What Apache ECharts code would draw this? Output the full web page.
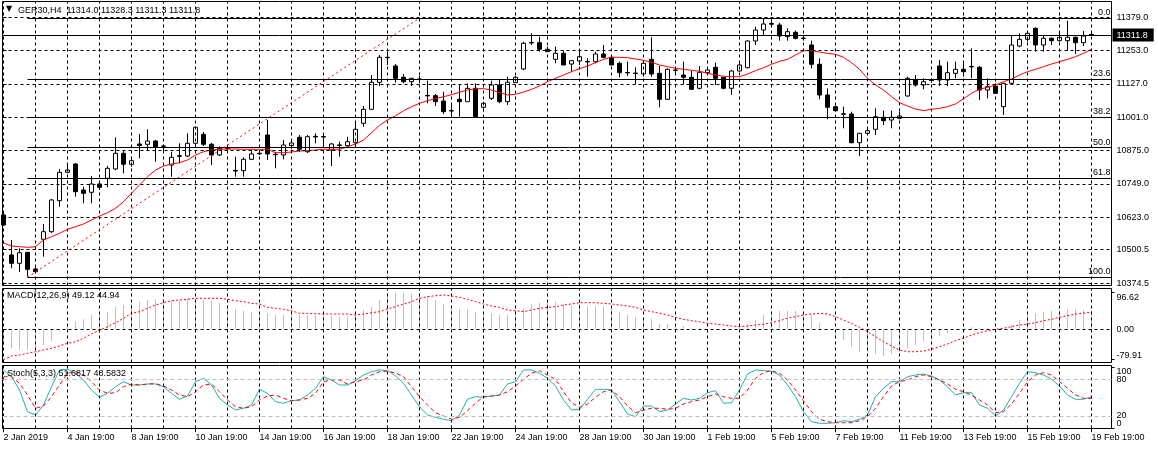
<!DOCTYPE html>
<html>
<head>
<meta charset="utf-8">
<script src="https://cdn.jsdelivr.net/npm/echarts@6/dist/echarts.min.js"></script>
<style>
html,body{margin:0;padding:0;background:#fff;}
#chart{width:1158px;height:450px;}
</style>
</head>
<body>
<div id="chart"></div>
<script>
// ---------- DATA ----------
const days = ['2 Jan','3 Jan','4 Jan','7 Jan','8 Jan','9 Jan','10 Jan','11 Jan','14 Jan','15 Jan','16 Jan','17 Jan','18 Jan',
  '21 Jan','22 Jan','23 Jan','24 Jan','25 Jan','28 Jan','29 Jan','30 Jan','31 Jan','1 Feb','4 Feb','5 Feb','6 Feb','7 Feb','8 Feb',
  '11 Feb','12 Feb','13 Feb','14 Feb','15 Feb','18 Feb','19 Feb'];
const hours = ['07:00','11:00','15:00','19:00'];
const firstLabel = '2 Jan 2019';

const opens = [10631.7,10480.5,10449.1,10490.7,10427.6,10539.8,10568.6,10685.8,10793.1,10824.5,
10726.2,10717.5,10748.9,10770.4,10805.6,10864.9,10823.4,10900.1,10898.9,10911.4,
10892.5,10820.7,10855.9,10854.7,10902.7,10936.7,10898.9,10858.5,10885.0,10799.9,
10799.2,10842.2,10864.9,10934.1,10861.1,10858.5,10893.7,10925.4,10871.0,10929.2,
10928.4,10877.4,10896.3,10893.7,10905.0,10978.3,11031.2,11133.3,11227.8,11194.9,
11152.2,11135.6,11145.8,11083.4,11082.7,11062.6,11026.0,11069.0,11060.0,11110.6,
11038.8,11072.8,11123.1,11060.0,11131.8,11183.6,11283.8,11283.0,11258.0,11220.2,
11242.9,11202.5,11213.8,11211.9,11211.2,11240.3,11227.8,11205.1,11170.3,11168.1,
11164.7,11220.2,11167.3,11069.0,11179.8,11160.9,11152.2,11110.6,11169.6,11190.0,
11152.2,11110.6,11176.0,11188.5,11289.4,11331.0,11355.6,11349.9,11305.7,11322.3,
11300.4,11274.3,11201.3,11085.3,11041.1,11014.2,11013.5,10905.0,10940.5,10955.6,
11001.0,10990.8,10997.2,11081.5,11142.0,11123.1,11142.0,11194.9,11142.0,11167.3,
11182.4,11193.0,11190.0,11104.2,11119.3,11041.1,11129.5,11270.5,11295.8,11337.4,
11274.3,11299.6,11290.6,11290.6,11303.4,11283.0,11314.0];
const highs = [10639.3,10537.2,10505.8,10491.8,10436.3,10597.7,10692.2,10805.6,10827.1,10828.3,
10738.7,10779.1,10755.3,10816.9,10925.0,10877.4,10852.1,10937.9,10955.6,10915.2,
10898.2,10871.0,10902.7,10940.5,10964.3,10945.4,10903.9,10890.6,10892.5,10852.1,
10849.8,10880.0,10877.4,10990.8,10871.0,10915.2,10915.2,10934.1,10934.1,10940.5,
10934.1,10903.9,10908.8,10927.7,10984.4,11043.7,11160.9,11236.5,11249.0,11202.5,
11164.7,11150.0,11157.1,11139.4,11089.1,11097.8,11047.5,11126.9,11129.5,11129.5,
11060.0,11139.4,11144.6,11154.5,11157.1,11286.8,11318.5,11305.7,11267.9,11267.9,
11252.8,11217.6,11252.8,11224.0,11249.0,11274.3,11230.1,11211.2,11211.2,11190.0,
11211.2,11303.4,11194.9,11186.2,11186.2,11211.2,11177.2,11194.9,11182.4,11207.4,
11152.2,11179.8,11205.1,11292.0,11343.5,11375.2,11368.8,11358.6,11337.4,11328.4,
11312.1,11290.6,11224.0,11110.6,11045.0,11041.1,11022.2,10942.0,10959.4,11035.0,
11026.0,11026.0,11022.2,11154.5,11160.9,11148.4,11148.4,11217.6,11211.2,11211.2,
11205.1,11261.8,11194.9,11148.4,11129.5,11131.0,11308.3,11318.5,11320.8,11341.2,
11308.3,11303.4,11320.8,11366.2,11306.0,11327.2,11328.3];
const lows = [10590.1,10430.2,10416.2,10398.5,10411.3,10474.1,10563.7,10663.1,10789.3,10700.9,
10675.9,10675.9,10726.2,10736.4,10801.8,10789.3,10814.3,10846.0,10877.4,10833.2,
10864.9,10776.5,10827.1,10850.9,10896.3,10892.5,10820.7,10854.7,10877.4,10776.5,
10776.5,10839.6,10858.5,10839.6,10808.2,10842.2,10880.0,10869.8,10866.1,10902.7,
10885.0,10816.9,10852.1,10889.9,10896.3,10965.5,11028.6,11119.3,11198.7,11131.8,
11129.5,11119.3,11129.5,11053.9,11043.7,11013.5,11003.3,11003.3,11060.0,11003.3,
11022.2,11066.4,11053.9,11047.5,11131.8,11179.8,11274.3,11249.0,11249.0,11205.1,
11198.7,11173.4,11198.7,11154.5,11205.1,11224.0,11198.7,11152.2,11157.1,11126.9,
11154.5,11154.5,11038.8,11066.4,11160.9,11126.9,11104.2,11106.8,11167.3,11123.1,
11106.8,11085.3,11173.4,11186.2,11274.3,11312.1,11349.9,11290.6,11290.6,11295.8,
11290.6,11186.2,11069.0,10993.4,11022.2,10959.4,10902.7,10854.7,10934.1,10934.1,
10971.9,10959.4,10993.4,11078.9,11116.7,11106.8,11131.8,11119.3,11119.3,11148.4,
11154.5,11148.4,11066.4,11072.8,11089.1,11009.7,11126.9,11265.6,11286.8,11249.0,
11249.0,11274.3,11286.8,11252.8,11240.3,11270.5,11311.3];
const closes = [10593.9,10449.1,10489.2,10426.4,10417.4,10568.6,10688.4,10793.1,10801.8,10719.8,
10713.7,10748.9,10736.4,10808.2,10864.9,10823.4,10836.9,10894.4,10911.4,10888.7,
10891.4,10849.8,10853.6,10902.7,10963.2,10898.9,10858.5,10883.8,10882.3,10798.0,
10842.2,10862.3,10863.0,10862.3,10859.6,10896.3,10903.9,10880.0,10927.7,10926.5,
10926.5,10900.1,10895.2,10908.8,10955.6,11031.2,11133.3,11227.8,11226.3,11148.4,
11135.6,11148.4,11144.6,11081.9,11060.0,11022.2,11024.8,11060.0,11110.6,11003.3,
11053.9,11123.1,11060.0,11133.3,11152.2,11280.7,11281.9,11258.0,11249.0,11242.9,
11198.7,11215.0,11230.1,11210.4,11240.3,11227.8,11198.7,11169.6,11168.8,11166.6,
11205.1,11164.7,11069.0,11182.4,11178.7,11152.2,11106.8,11171.1,11179.8,11148.4,
11110.6,11176.0,11198.7,11289.4,11331.0,11353.7,11352.9,11308.3,11324.6,11299.6,
11298.9,11201.3,11085.3,11038.8,11026.0,11012.7,10905.0,10940.5,10950.4,11003.3,
10988.2,11001.0,11005.9,11148.4,11123.1,11135.6,11140.1,11142.0,11169.6,11182.4,
11173.4,11191.5,11104.2,11116.7,11091.7,11129.5,11274.3,11295.8,11318.5,11274.3,
11299.6,11290.6,11303.4,11303.4,11283.0,11308.3,11311.8];

const maValues = [10525.9,10514.5,10511.9,10509.6,10511.9,10537.2,10549.7,10562.5,10577.6,10587.5,
10597.7,10612.8,10627.9,10640.4,10657.0,10682.0,10713.7,10745.1,10776.5,10801.8,
10816.9,10824.5,10829.4,10839.6,10858.5,10871.0,10877.4,10880.0,10881.2,10881.2,
10880.0,10880.0,10880.0,10880.0,10867.2,10867.2,10869.8,10873.6,10874.8,10877.4,
10880.0,10880.0,10880.0,10889.9,10900.1,10915.2,10942.8,10970.8,10990.8,11007.1,
11026.0,11041.1,11053.9,11063.8,11071.3,11078.9,11086.4,11095.5,11104.2,11109.1,
11109.1,11104.2,11094.0,11085.3,11087.9,11096.6,11106.8,11119.3,11135.6,11148.4,
11160.9,11173.4,11184.7,11194.9,11207.4,11220.2,11227.8,11227.8,11226.3,11221.4,
11216.5,11208.9,11198.7,11192.3,11186.2,11182.4,11178.7,11174.9,11167.3,11160.9,
11156.0,11154.5,11154.5,11164.7,11177.2,11188.5,11201.3,11212.6,11220.2,11236.5,
11252.8,11252.8,11247.8,11242.9,11239.1,11227.8,11207.4,11182.4,11148.4,11123.1,
11104.2,11078.9,11056.2,11043.7,11032.4,11026.0,11031.2,11035.0,11041.1,11051.3,
11071.3,11091.7,11106.8,11114.4,11123.1,11135.6,11145.8,11160.9,11173.4,11182.4,
11192.3,11202.5,11211.2,11220.2,11230.1,11242.9,11258.0];

const macdMain = [-41.4,-50.1,-54.6,-54.6,-50.1,-41.4,-30.1,-6.3,11.4,20.1,
26.4,37.8,42.2,46.5,59.7,64.2,68.6,72.9,77.3,79.2,
77.3,75.5,75.5,81.9,79.2,77.3,75.5,70.2,64.2,52.8,
49.1,46.5,43.8,42.2,37.8,37.8,37.8,37.8,37.8,37.8,
37.8,35.1,33.3,33.3,42.2,50.9,59.7,77.3,93.5,96.6,
96.62,94.5,90.6,87.9,77.3,66.8,55.5,52.8,52.8,46.5,
42.2,42.2,37.8,37.8,49.1,55.5,66.8,70.2,72.9,72.9,
66.8,64.2,66.8,61.5,61.5,61.5,55.5,46.5,37.8,31.6,
26.4,26.4,14.0,14.0,14.0,8.7,2.7,2.7,0.6,0.6,
0.6,0.6,5.2,14.0,24.5,37.8,42.2,49.1,49.1,49.1,
42.2,37.8,17.4,-1.1,-15.0,-28.3,-45.9,-59.2,-59.2,-65.2,
-70.5,-65.2,-59.2,-50.1,-41.4,-32.8,-28.3,-17.7,-10.6,-1.1,
-1.1,5.2,2.7,2.7,-0.6,0.6,11.4,24.5,42.2,42.2,
46.5,49.1,49.1,52.8,52.8,50.9,49.12];
const macdSignal = [-79.91,-70.5,-67.8,-63.4,-59.2,-54.7,-50.1,-44.1,-37.0,-32.8,
-23.7,-12.4,-1.9,6.9,17.4,29.1,42.2,46.5,55.5,64.2,
70.2,75.5,77.3,79.2,81.9,81.9,81.9,81.9,79.2,75.5,
72.9,68.6,66.8,58.0,55.5,52.8,49.1,42.2,42.2,41.2,
40.4,40.4,40.4,40.4,37.8,40.4,43.8,46.5,54.0,59.7,
66.8,72.9,81.9,86.1,88.7,90.6,87.9,84.4,79.2,72.9,
66.8,61.5,58.0,50.9,49.1,46.5,50.9,55.5,58.0,59.7,
64.2,66.8,70.2,70.2,70.2,68.6,66.8,64.2,61.5,58.0,
50.9,46.5,42.2,37.8,31.6,26.4,22.7,20.1,15.8,14.0,
11.4,8.7,6.9,8.7,11.4,13.4,17.4,22.7,29.1,33.3,
37.8,40.4,42.2,40.4,33.3,24.5,15.8,5.2,-6.3,-19.5,
-32.8,-44.1,-54.7,-59.2,-59.2,-57.3,-52.8,-45.9,-38.8,-30.1,
-23.7,-15.0,-9.0,-3.7,0.0,2.7,6.9,11.4,14.0,17.4,
22.7,26.4,31.6,36.0,40.0,42.8,44.94];

const stochMain = [95.3,84.3,62.5,27.0,21.6,38.0,67.9,95.3,96.4,89.9,
78.9,62.5,50.6,57.1,67.9,76.1,70.7,70.7,72.3,72.3,
67.9,57.1,47.3,52.7,76.1,81.7,70.7,48.9,38.0,29.8,
32.6,38.0,63.7,57.1,43.4,40.8,45.0,46.2,54.3,65.3,
84.3,78.9,70.7,70.7,77.7,87.1,92.5,95.3,94.5,85.7,
73.5,54.3,35.2,21.6,17.8,14.6,12.3,21.6,47.3,51.6,
50.6,52.7,54.3,72.3,76.1,95.3,95.3,89.9,81.7,69.1,
46.2,29.8,30.9,47.3,63.7,63.7,62.5,43.4,23.2,18.8,
36.3,36.3,27.0,29.8,39.6,48.9,46.2,48.9,58.1,61.4,
40.8,41.7,62.5,88.7,95.3,94.1,93.3,87.1,70.7,51.6,
27.0,10.6,8.0,8.0,9.0,12.3,10.6,14.6,21.6,51.6,
65.3,76.1,76.1,84.3,87.1,88.7,85.4,78.9,67.9,54.3,
58.1,58.1,38.0,32.6,20.0,29.8,51.6,73.5,92.5,90.8,
87.1,80.0,69.1,54.3,47.3,47.3,51.6817];
const stochSignal = [84.3,84.3,73.5,54.3,32.6,36.3,51.6,70.7,89.9,92.5,
87.1,76.1,62.5,57.1,58.1,67.9,72.3,70.7,72.3,73.0,
69.1,62.5,54.3,51.6,59.7,70.7,72.3,59.7,46.2,35.2,
32.6,35.2,46.2,52.7,54.3,48.9,45.0,46.2,48.9,57.1,
76.1,78.9,78.9,72.3,76.1,78.9,87.1,92.5,93.3,90.4,
84.3,67.9,51.6,38.0,25.4,20.0,14.6,17.8,28.6,40.8,
51.6,52.7,54.3,59.7,69.1,80.0,89.9,94.1,87.1,80.0,
59.7,41.7,34.2,39.6,50.6,59.7,62.5,51.6,36.3,25.4,
29.8,32.6,32.6,30.9,32.6,39.6,43.4,46.2,51.6,56.0,
51.6,48.9,48.9,62.5,81.7,91.0,94.1,89.9,78.9,62.5,
45.0,27.0,14.6,10.6,9.0,9.0,9.0,12.3,18.8,32.6,
51.6,69.1,76.1,78.9,84.3,87.1,84.3,78.9,72.3,63.7,
59.7,54.3,46.2,38.0,25.4,27.0,39.6,57.1,76.1,87.1,
90.8,87.1,76.1,65.3,54.3,48.9,48.5832];

const priceTicks = [11379.0, 11253.0, 11127.0, 11001.0, 10875.0, 10749.0, 10623.0, 10500.5, 10374.5];
const bidPrice = 11311.8;
const fibLabels = ['0.0','23.6','38.2','50.0','61.8','100.0'];
const fibPrices = [11376, 11145, 11002, 10886, 10770, 10396];
const fibStartBar = 3;
const fibDiagonal = [[3, 10396], [52, 11376]];
const macdLabels = [96.62, 0, -79.91];
const stochLevels = [20, 80];
const stochScale = [0, 100];
const titleText = 'GER30,H4  11314.0 11328.3 11311.3 11311.8';
const macdText = 'MACD(12,26,9) 49.12 44.94';
const stochText = 'Stoch(5,3,3) 51.6817 48.5832';

// ---------- BUILD ----------
const barTimes = [days[0] + ' 19:00'];
days.slice(1).forEach(d => hours.forEach(h => barTimes.push(d + ' ' + h)));
const idx = closes.map((_, k) => k);
const candleData = idx.map(k => [k, opens[k], closes[k], lows[k], highs[k]]);
const pair = arr => idx.map(k => [k, arr[k]]);
const dayKs = idx.filter(k => k % 4 === 0);
const labelKs = idx.filter(k => k % 8 === 0);

const XMIN = -0.125, XMAX = 138.5;
const FONT = '"Liberation Sans", Arial, sans-serif';
const DASH = [3, 3];
const txt = {fontSize: 9, color: '#000', fontFamily: FONT, fontWeight: 'normal'};
const vLines = () => dayKs.map(k => ({xAxis: k}));

const gridBox = {show: true, borderColor: '#000', borderWidth: 1, backgroundColor: 'transparent'};
const grids = [
  Object.assign({left: 2.5, top: 1.5, width: 1109, height: 284}, gridBox),
  Object.assign({left: 2.5, top: 288.5, width: 1109, height: 74}, gridBox),
  Object.assign({left: 2.5, top: 365.5, width: 1109, height: 63}, gridBox)
];

const xAxes = [0, 1, 2].map(i => ({
  type: 'value', gridIndex: i, min: XMIN, max: XMAX,
  show: i === 2,
  axisLine: {show: false}, splitLine: {show: false},
  axisTick: {show: i === 2, customValues: labelKs, length: 4, lineStyle: {color: '#000'}},
  axisLabel: {show: i === 2, customValues: labelKs, align: 'left', margin: 5,
    formatter: v => (v === 0 ? firstLabel : barTimes[v]), ...txt}
}));

function yAx(grid, min, max, vals, fmt, vAlign) {
  return {
    type: 'value', gridIndex: grid, position: 'right', min: min, max: max,
    axisLine: {show: false}, splitLine: {show: false},
    axisTick: {show: true, customValues: vals, length: 3, lineStyle: {color: '#000'}},
    axisLabel: {customValues: vals, formatter: fmt, margin: 5, verticalAlign: vAlign, ...txt}
  };
}
const MAIN_MIN = 10365.2, MAIN_MAX = 11438.7;
const MACD_MIN = -87.6, MACD_MAX = 107.7;
const ST_MIN = -0.5, ST_MAX = 102.6;
const yAxes = [
  yAx(0, MAIN_MIN, MAIN_MAX, priceTicks, v => v.toFixed(1), 'middle'),
  yAx(1, MACD_MIN, MACD_MAX, [macdLabels[1]], v => v.toFixed(2), 'middle'),
  yAx(1, MACD_MIN, MACD_MAX, [macdLabels[0]], v => v.toFixed(2), 'top'),
  yAx(1, MACD_MIN, MACD_MAX, [macdLabels[2]], v => v.toFixed(2), 'bottom'),
  yAx(2, ST_MIN, ST_MAX, stochLevels, v => String(v), 'middle'),
  yAx(2, ST_MIN, ST_MAX, [stochScale[1]], v => String(v), 'top'),
  yAx(2, ST_MIN, ST_MAX, [stochScale[0]], v => String(v), 'bottom')
];

const mlBase = {silent: true, symbol: ['none', 'none'], animation: false, label: {show: false},
  lineStyle: {color: '#000', type: DASH, width: 1}};

const fibLines = fibPrices.map((p, i) => [
  {coord: [fibStartBar, p], lineStyle: {type: 'solid', color: '#000', width: 1},
   label: {show: true, position: 'insideEndTop', formatter: fibLabels[i], distance: 1, ...txt}},
  {coord: [XMAX, p]}
]);

const series = [
  {type: 'line', xAxisIndex: 0, yAxisIndex: 0, data: [], z: 1,
   markLine: Object.assign({}, mlBase, {data: priceTicks.map(p => ({yAxis: p})).concat(vLines())})},
  {type: 'candlestick', xAxisIndex: 0, yAxisIndex: 0, data: candleData, z: 2,
   encode: {x: 0, y: [1, 2, 3, 4]}, barWidth: 4,
   itemStyle: {color: '#fff', color0: '#000', borderColor: '#000', borderColor0: '#000', borderWidth: 1}},
  {type: 'line', xAxisIndex: 0, yAxisIndex: 0, data: pair(maValues), z: 3, symbol: 'none',
   lineStyle: {color: '#ff0000', width: 1},
   markLine: Object.assign({}, mlBase, {data: fibLines.concat([
     [{coord: fibDiagonal[0], lineStyle: {color: '#ff0000', type: [2, 3], width: 1}}, {coord: fibDiagonal[1]}],
     {yAxis: bidPrice, lineStyle: {type: 'solid', color: '#000', width: 1},
      label: {show: true, position: 'end', formatter: bidPrice.toFixed(1), distance: 1,
        backgroundColor: '#000', padding: [2, 6, 2, 4], ...txt, color: '#fff'}}
   ])})},
  {type: 'line', xAxisIndex: 1, yAxisIndex: 1, data: [], z: 1,
   markLine: Object.assign({}, mlBase, {data: [{yAxis: 0}].concat(vLines())})},
  {type: 'bar', xAxisIndex: 1, yAxisIndex: 1, data: pair(macdMain), barWidth: 1, z: 2,
   itemStyle: {color: '#c0c0c0'}},
  {type: 'line', xAxisIndex: 1, yAxisIndex: 1, data: pair(macdSignal), z: 3, symbol: 'none',
   lineStyle: {color: '#ff0000', width: 1, type: [2, 2]}},
  {type: 'line', xAxisIndex: 2, yAxisIndex: 4, data: [], z: 1,
   markLine: Object.assign({}, mlBase, {data: vLines().concat(
     stochLevels.map(v => ({yAxis: v, lineStyle: {color: '#c0c0c0', type: [4, 3]}})),
     [{yAxis: 0}])})},
  {type: 'line', xAxisIndex: 2, yAxisIndex: 4, data: pair(stochMain), z: 3, symbol: 'none',
   lineStyle: {color: '#20b2aa', width: 1}},
  {type: 'line', xAxisIndex: 2, yAxisIndex: 4, data: pair(stochSignal), z: 3, symbol: 'none',
   lineStyle: {color: '#ff0000', width: 1, type: [4, 3]}}
];

const chart = echarts.init(document.getElementById('chart'), null, {renderer: 'canvas'});
chart.setOption({
  animation: false,
  backgroundColor: '#fff',
  title: [
    {text: '\u25BC', left: 6, top: 5, padding: 0, textStyle: {fontSize: 8, color: '#000', fontFamily: 'DejaVu Sans', fontWeight: 'normal'}},
    {text: titleText, left: 18, top: 6, padding: 0, textStyle: txt},
    {text: macdText, left: 7, top: 291, padding: 0, textStyle: txt},
    {text: stochText, left: 7, top: 369, padding: 0, textStyle: txt}
  ],
  grid: grids,
  xAxis: xAxes,
  yAxis: yAxes,
  series: series
});
</script>
</body>
</html>
